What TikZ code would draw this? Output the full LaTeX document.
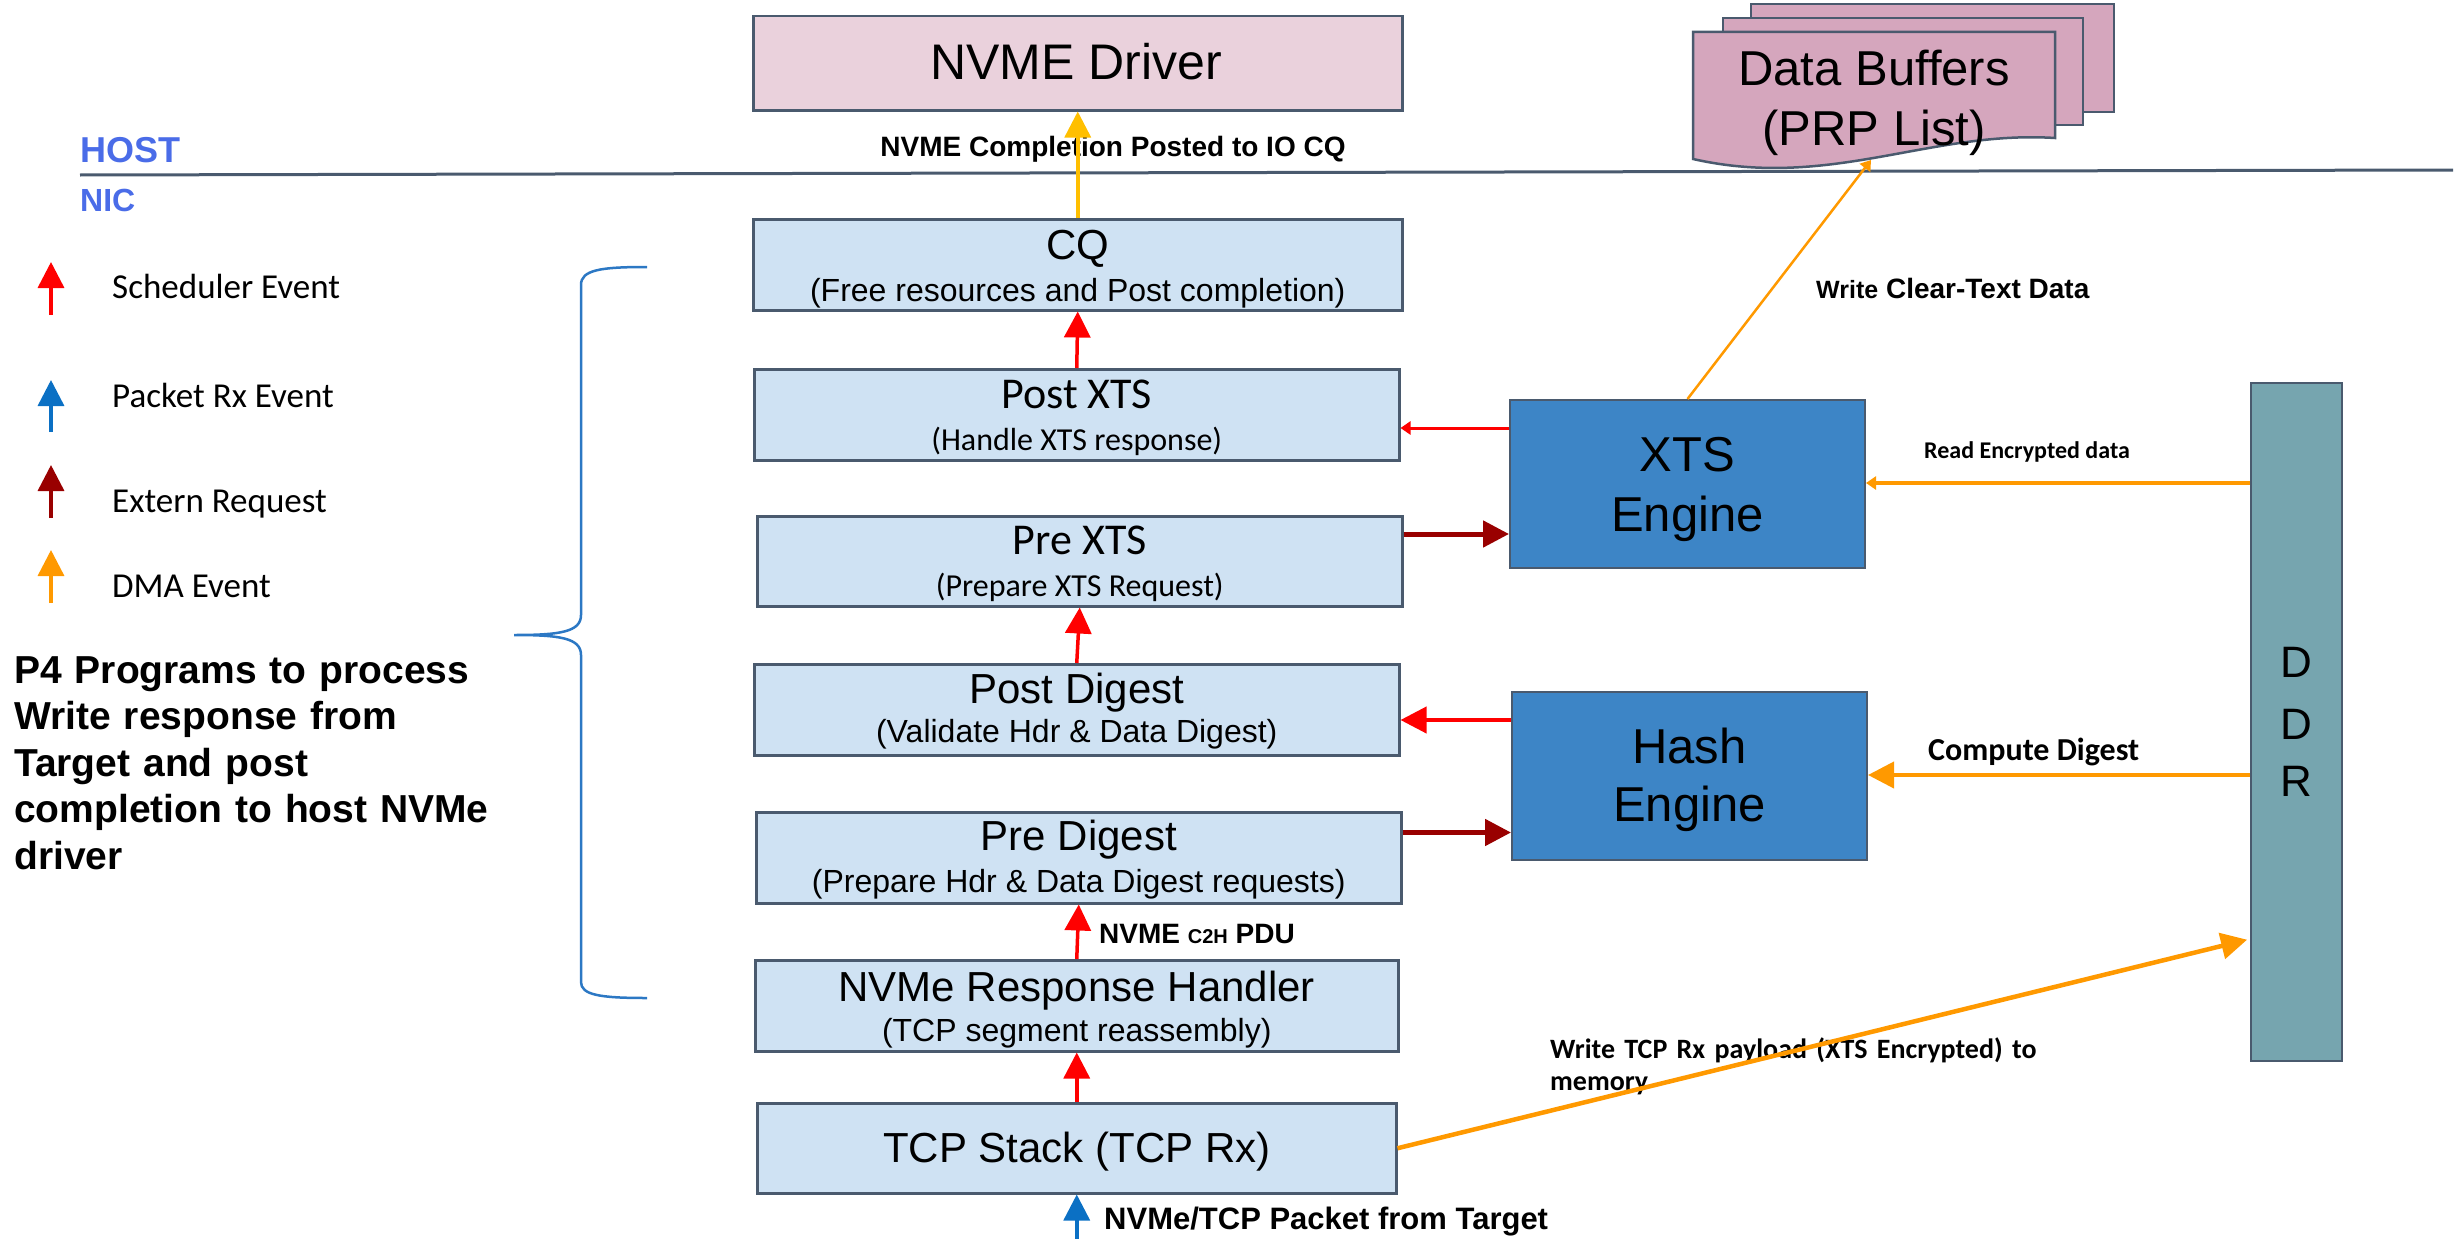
\documentclass[tikz,border=0pt]{standalone}
\usepackage{fontspec}
\setmainfont{Liberation Sans}
\newfontfamily\calib{Carlito}
\usetikzlibrary{arrows.meta}

\definecolor{boxblue}{HTML}{CFE2F3}
\definecolor{boxline}{HTML}{4A5A6E}
\definecolor{drvpink}{HTML}{EAD1DC}
\definecolor{bufpink}{HTML}{D5A6BD}
\definecolor{engblue}{HTML}{3D85C6}
\definecolor{ddrteal}{HTML}{76A5AF}
\definecolor{evred}{HTML}{FF0000}
\definecolor{exred}{HTML}{990000}
\definecolor{rxblue}{HTML}{0B70C4}
\definecolor{dmaorange}{HTML}{FF9900}
\definecolor{cqgold}{HTML}{FFBF00}
\definecolor{hostblue}{HTML}{4A6CE8}
\definecolor{braceblue}{HTML}{2C78C4}

\tikzset{
  stage/.style={draw=boxline, line width=2.5pt, fill=boxblue, inner sep=0pt, anchor=north west},
  engine/.style={draw=boxline, line width=2pt, fill=engblue, inner sep=0pt, anchor=north west},
  txt/.style={inner sep=0pt, anchor=base},
  title/.style={txt, font={\fontsize{42}{50}\selectfont}},
  subtitle/.style={txt, font={\fontsize{32}{38}\selectfont}},
  ctitle/.style={txt, font={\calib\fontsize{44}{52}\selectfont}},
  csubtitle/.style={txt, font={\calib\fontsize{32}{38}\selectfont}},
  enginetxt/.style={txt, font={\fontsize{49}{58}\selectfont}},
  legendtxt/.style={inner sep=0pt, anchor=base west, font={\calib\fontsize{35}{42}\selectfont}},
  bigtip/.style={-{Triangle[length=26pt,width=26pt]}},
  smalltip/.style={-{Triangle[length=10pt,width=13pt]}},
  sched/.style={bigtip, line width=3.5pt, draw=evred, fill=evred},
  schedthin/.style={smalltip, line width=3pt, draw=evred, fill=evred},
  extreq/.style={bigtip, line width=5pt, draw=exred, fill=exred},
  pktrx/.style={bigtip, line width=3.5pt, draw=rxblue, fill=rxblue},
  dma/.style={bigtip, line width=4.5pt, draw=dmaorange, fill=dmaorange},
  dmathin/.style={smalltip, line width=3.5pt, draw=dmaorange, fill=dmaorange},
  completion/.style={bigtip, line width=3.5pt, draw=cqgold, fill=cqgold},
}

\begin{document}
\begin{tikzpicture}[x=1pt, y=-1pt]
\useasboundingbox (0,0) rectangle (2458,1239);

% ---------- host / nic split ----------
\node[inner sep=0pt, anchor=base west, text=hostblue, font={\bfseries\fontsize{36}{43}\selectfont}] (host) at (80,162) {HOST};
\node[inner sep=0pt, anchor=base west, text=hostblue, font={\bfseries\fontsize{32}{38}\selectfont}] (nic) at (80,211) {NIC};
\draw[line width=3pt, draw=boxline] (80,175) -- (2453,170);

% ---------- host side ----------
\node[stage, fill=drvpink, minimum width=649pt, minimum height=94pt] (drv) at (752,15) {};
\node[txt, font={\fontsize{50}{60}\selectfont}] (drvT) at (1076,79) {NVME Driver};

% stacked data buffers
\draw[line width=2.5pt, draw=boxline, fill=bufpink] (1751,4) rectangle (2114,112);
\draw[line width=2.5pt, draw=boxline, fill=bufpink] (1723,18) rectangle (2083,125);
\draw[line width=2.5pt, draw=boxline, fill=bufpink]
  (1693,32) -- (2055,32) -- (2055,138)
  .. controls (1930,130) and (1830,190) .. (1693,159) -- cycle;
\coordinate (bufwave) at (1871,160);
\node[txt, font={\fontsize{49}{58}\selectfont}] (bufT1) at (1874,85) {Data Buffers};
\node[txt, font={\fontsize{49}{58}\selectfont}] (bufT2) at (1874,145) {(PRP List)};

% ---------- NIC pipeline ----------
\node[stage, minimum width=649pt, minimum height=91pt] (cq) at (752,218) {};
\node[title] (cqT) at (cq.north |- 0,259) {CQ};
\node[subtitle] (cqS) at (cq.north |- 0,301) {(Free resources and Post completion)};

\node[stage, minimum width=645pt, minimum height=91pt] (postxts) at (753,368) {};
\node[ctitle] (postxtsT) at (postxts.north |- 0,408) {Post XTS};
\node[csubtitle] (postxtsS) at (postxts.north |- 0,450) {(Handle XTS response)};

\node[stage, minimum width=645pt, minimum height=90pt] (prexts) at (756,515) {};
\node[ctitle] (prextsT) at (prexts.north |- 0,554) {Pre XTS};
\node[csubtitle] (prextsS) at (prexts.north |- 0,596) {(Prepare XTS Request)};

\node[stage, minimum width=645pt, minimum height=91pt] (postdig) at (753,663) {};
\node[title] (postdigT) at (postdig.north |- 0,703) {Post Digest};
\node[subtitle] (postdigS) at (postdig.north |- 0,742) {(Validate Hdr \& Data Digest)};

\node[stage, minimum width=645pt, minimum height=91pt] (predig) at (755,811) {};
\node[title] (predigT) at (predig.north |- 0,850) {Pre Digest};
\node[subtitle] (predigS) at (predig.north |- 0,892) {(Prepare Hdr \& Data Digest requests)};

\node[stage, minimum width=643pt, minimum height=91pt] (resp) at (754,959) {};
\node[title] (respT) at (resp.north |- 0,1001) {NVMe Response Handler};
\node[subtitle] (respS) at (resp.north |- 0,1041) {(TCP segment reassembly)};

\node[stage, minimum width=639pt, minimum height=90pt] (tcp) at (756,1102) {};
\node[title] (tcpT) at (tcp.north |- 0,1162) {TCP Stack (TCP Rx)};

% ---------- engines and memory ----------
\node[engine, minimum width=355pt, minimum height=168pt] (xts) at (1509,399) {};
\node[enginetxt] (xtsT1) at (xts.north |- 0,471) {XTS};
\node[enginetxt] (xtsT2) at (xts.north |- 0,531) {Engine};

\node[engine, minimum width=355pt, minimum height=168pt] (hash) at (1511,691) {};
\node[enginetxt] (hashT1) at (hash.north |- 0,763) {Hash};
\node[enginetxt] (hashT2) at (hash.north |- 0,821) {Engine};

\node[stage, fill=ddrteal, line width=2pt, minimum width=91pt, minimum height=678pt] (ddr) at (2250,382) {};
\node[txt, font={\fontsize{44}{52}\selectfont}] (ddrD1) at (ddr.north |- 0,677) {D};
\node[txt, font={\fontsize{44}{52}\selectfont}] (ddrD2) at (ddr.north |- 0,739) {D};
\node[txt, font={\fontsize{44}{52}\selectfont}] (ddrR) at (ddr.north |- 0,796) {R};

% ---------- connector labels ----------
\node[txt, font={\bfseries\fontsize{28}{34}\selectfont}] (cqLbl) at (1113,156) {NVME Completion Posted to IO CQ};
\node[txt, anchor=base west, font={\bfseries\fontsize{28}{34}\selectfont}] (c2hLbl) at (1099,943) {NVME {\fontsize{20}{24}\selectfont C2H} PDU};
\node[txt, anchor=base west, font={\bfseries\fontsize{31}{37}\selectfont}] (pktLbl) at (1104,1229) {NVMe/TCP Packet from Target};
\node[txt, anchor=base west, font={\bfseries\fontsize{28}{34}\selectfont}] (clearLbl) at (1816,298) {{\fontsize{25}{29}\selectfont Write} Clear-Text Data};
\node[txt, anchor=base west, font={\calib\bfseries\fontsize{24}{29}\selectfont}] (readLbl) at (1924,458) {Read Encrypted data};
\node[txt, anchor=base west, font={\calib\bfseries\fontsize{32}{38}\selectfont}] (digLbl) at (1928,760) {Compute Digest};
\node[txt, anchor=base west, text width=600pt, align=left, font={\calib\bfseries\fontsize{28}{32}\selectfont}] (wrLbl) at (1550,1058) {Write TCP Rx payload (XTS Encrypted) to\\memory};

% ---------- pipeline connectors ----------
\coordinate (pktin) at (tcp.south |- 0,1239);
\draw[pktrx] (pktin) -- (tcp.south);
\draw[sched] (tcp.north) -- (resp.south);
\draw[sched] (resp.north) -- (predig.south);
\draw[sched] (postdig.north) -- (prexts.south);
\draw[sched] (postxts.north) -- (cq.south);
\draw[completion] (cq.north) -- (drv.south);

% engine requests and responses
\coordinate (a1) at ([yshift=-29pt]xts.north west);
\draw[schedthin] (a1) -- (a1 -| postxts.east);
\coordinate (a2) at ([yshift=-19pt]prexts.north east);
\draw[extreq] (a2) -- (a2 -| xts.west);
\coordinate (a3) at ([yshift=-29pt]hash.north west);
\draw[sched, line width=4pt] (a3) -- (a3 -| postdig.east);
\coordinate (a4) at ([yshift=-21.5pt]predig.north east);
\draw[extreq] (a4) -- (a4 -| hash.west);

% DMA traffic
\coordinate (a5) at ([yshift=-84pt]xts.north east);
\draw[dmathin] (a5 -| ddr.west) -- (a5);
\coordinate (a6) at ([yshift=-84pt]hash.north east);
\draw[dma, line width=4pt] (a6 -| ddr.west) -- (a6);
\coordinate (a7) at ([yshift=-557pt]ddr.north west);
\draw[dma, shorten >=3pt] (tcp.east) -- (a7);
\draw[smalltip, line width=2.5pt, draw=dmaorange, fill=dmaorange] (xts.north) -- (bufwave);

% ---------- legend ----------
\coordinate (lgS0) at (51,315); \coordinate (lgS1) at (51,262);
\coordinate (lgR0) at (51,432); \coordinate (lgR1) at (51,380);
\coordinate (lgE0) at (51,518); \coordinate (lgE1) at (51,465);
\coordinate (lgD0) at (51,603); \coordinate (lgD1) at (51,550);
\draw[sched] (lgS0) -- (lgS1);
\draw[pktrx] (lgR0) -- (lgR1);
\draw[bigtip, line width=3.5pt, draw=exred, fill=exred] (lgE0) -- (lgE1);
\draw[bigtip, line width=3.5pt, draw=dmaorange, fill=dmaorange] (lgD0) -- (lgD1);
\node[legendtxt] (lgStxt) at (112,298) {Scheduler Event};
\node[legendtxt] (lgRtxt) at (112,407) {Packet Rx Event};
\node[legendtxt] (lgEtxt) at (112,512) {Extern Request};
\node[legendtxt] (lgDtxt) at (112,597) {DMA Event};

% ---------- brace and description ----------
\draw[line width=2.5pt, draw=braceblue]
  (647,267) .. controls (600,267) and (581,270) .. (581,285)
  -- (581,615) .. controls (581,632) and (560,635) .. (514,635)
  .. controls (560,635) and (581,638) .. (581,655)
  -- (581,982) .. controls (581,995) and (600,998) .. (647,998);
\node[inner sep=0pt, anchor=base west, text width=720pt, align=left, font={\bfseries\fontsize{39}{46.5}\selectfont}] (p4txt) at (14,683)
  {P4 Programs to process\\Write response from\\Target and post\\completion to host NVMe\\driver};

\end{tikzpicture}
\end{document}
